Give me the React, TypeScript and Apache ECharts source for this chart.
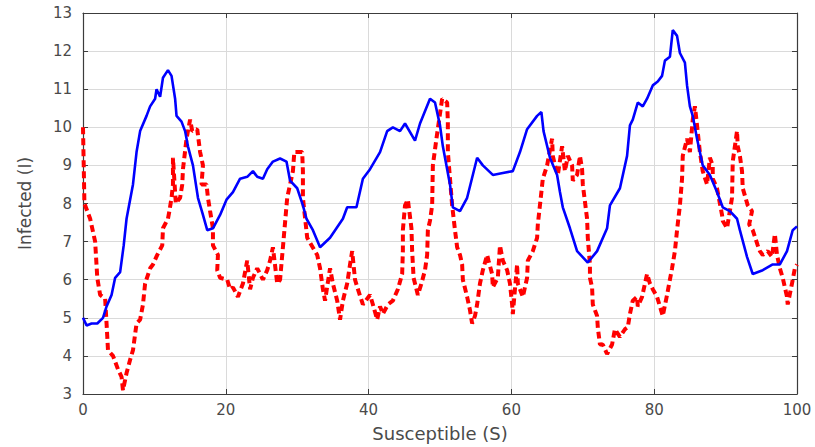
import React, { useEffect, useRef } from "react";
import * as echarts from "echarts";

const blueS = [0, 0.5, 1.2, 2.0, 2.8, 3.3, 4.0, 4.5, 5.2, 5.7, 6.1, 7.0, 7.5, 8.0, 8.9, 9.4, 10.1, 10.3, 10.8, 11.2, 11.9, 12.4, 12.9, 13.1, 13.8, 14.3, 14.7, 15.4, 16.1, 16.8, 17.4, 18.2, 19.2, 20.1, 21.0, 22.0, 23.0, 23.8, 24.4, 25.2, 25.8, 26.6, 27.6, 28.5, 29.0, 30.0, 30.8, 31.3, 32.2, 33.2, 34.6, 35.5, 36.4, 37.0, 38.3, 39.2, 40.2, 41.6, 42.6, 43.4, 44.4, 45.1, 46.5, 47.2, 48.6, 49.3, 50.0, 50.4, 51.4, 51.8, 52.8, 53.8, 55.2, 56.0, 57.4, 58.8, 60.2, 61.2, 62.2, 63.6, 64.2, 64.5, 65.4, 66.4, 66.8, 67.2, 68.2, 69.2, 70.7, 72.0, 73.4, 73.8, 75.2, 76.2, 76.6, 77.0, 77.7, 78.4, 79.0, 79.8, 80.5, 81.1, 81.5, 82.2, 82.6, 83.2, 83.6, 84.3, 84.6, 85.0, 85.4, 86.0, 86.8, 87.8, 88.8, 89.6, 90.6, 91.6, 92.0, 93.0, 93.8, 95.2, 96.6, 97.6, 98.6, 99.4, 100];
const blueI = [5.0, 4.8, 4.85, 4.85, 5.0, 5.3, 5.6, 6.05, 6.2, 6.9, 7.6, 8.5, 9.35, 9.9, 10.3, 10.55, 10.75, 11.0, 10.8, 11.3, 11.5, 11.35, 10.75, 10.3, 10.15, 9.9, 9.5, 9.0, 8.15, 7.7, 7.3, 7.35, 7.7, 8.1, 8.3, 8.65, 8.7, 8.85, 8.7, 8.65, 8.9, 9.1, 9.18, 9.1, 8.6, 8.4, 7.95, 7.6, 7.3, 6.85, 7.1, 7.35, 7.6, 7.9, 7.9, 8.65, 8.9, 9.35, 9.9, 10.0, 9.9, 10.1, 9.65, 10.1, 10.75, 10.65, 10.05, 9.5, 8.5, 7.9, 7.8, 8.15, 9.2, 9.0, 8.75, 8.8, 8.85, 9.35, 9.95, 10.3, 10.4, 9.9, 9.2, 8.75, 8.3, 7.9, 7.35, 6.75, 6.45, 6.75, 7.35, 7.95, 8.4, 9.25, 10.05, 10.2, 10.65, 10.55, 10.75, 11.1, 11.2, 11.35, 11.75, 11.85, 12.55, 12.4, 11.95, 11.7, 11.1, 10.55, 10.3, 9.7, 9.0, 8.75, 8.3, 7.9, 7.8, 7.6, 7.3, 6.6, 6.15, 6.25, 6.4, 6.4, 6.75, 7.3, 7.4];

const redS = [0, 0.1, 0.2, 1.0, 1.7, 2.0, 2.4, 3.1, 3.3, 3.5, 4.2, 4.9, 5.4, 5.6, 6.1, 6.6, 7.0, 7.5, 8.0, 8.4, 8.7, 9.4, 9.8, 10.4, 11.1, 11.2, 11.9, 12.1, 12.4, 12.6, 12.6, 13.0, 13.6, 13.9, 14.0, 14.5, 15.0, 15.3, 16.0, 16.4, 16.8, 16.6, 17.3, 17.5, 17.8, 18.2, 18.2, 18.9, 18.8, 19.2, 20.2, 20.6, 21.0, 21.7, 22.4, 23.0, 23.4, 23.8, 24.4, 25.2, 25.8, 26.2, 26.6, 27.2, 27.6, 28.0, 28.6, 29.4, 29.6, 30.7, 30.8, 30.8, 31.4, 32.8, 33.2, 33.6, 33.9, 34.6, 35.0, 35.6, 36.0, 36.4, 37.0, 37.4, 37.7, 38.1, 38.5, 39.2, 40.2, 40.6, 41.2, 41.6, 42.0, 42.7, 43.4, 44.1, 44.7, 44.8, 44.8, 45.1, 45.5, 46.0, 46.1, 46.3, 46.9, 47.4, 47.9, 48.2, 48.3, 48.6, 48.9, 49.0, 49.5, 50.3, 51.0, 51.1, 51.1, 51.4, 51.7, 52.1, 52.4, 52.8, 53.1, 53.2, 53.8, 54.2, 54.5, 54.9, 55.2, 55.6, 56.0, 56.6, 56.8, 57.3, 57.4, 58.1, 58.4, 58.8, 59.4, 59.8, 60.1, 60.2, 60.8, 60.9, 61.6, 62.2, 62.3, 63.0, 63.6, 63.7, 64.2, 64.4, 65.0, 65.7, 65.8, 66.1, 66.5, 67.1, 67.5, 67.9, 68.5, 68.6, 69.2, 69.6, 69.9, 70.0, 70.3, 70.6, 70.7, 71.0, 71.0, 71.3, 71.4, 72.0, 72.1, 72.4, 72.8, 73.4, 74.1, 74.5, 75.2, 75.9, 76.3, 76.6, 77.0, 77.6, 77.7, 78.3, 79.0, 79.4, 79.8, 80.4, 80.8, 81.2, 81.8, 82.2, 82.5, 82.9, 83.2, 83.6, 83.9, 84.0, 84.6, 85.0, 85.4, 85.7, 86.0, 86.4, 86.8, 87.4, 87.8, 88.2, 88.2, 88.8, 89.5, 89.6, 90.2, 90.9, 91.0, 91.6, 91.7, 92.0, 92.3, 92.4, 93.1, 93.7, 93.3, 93.8, 94.5, 94.8, 95.2, 95.9, 96.5, 96.9, 97.2, 97.6, 98.0, 98.6, 98.7, 99.3, 99.7, 100];
const redI = [10.0, 9.0, 8.0, 7.6, 7.0, 6.05, 5.6, 5.5, 4.85, 4.15, 4.0, 3.65, 3.45, 3.1, 3.55, 3.9, 4.15, 4.85, 4.95, 5.35, 5.9, 6.3, 6.4, 6.65, 6.9, 7.35, 7.6, 7.8, 8.15, 8.5, 9.2, 8.0, 8.15, 8.5, 8.9, 9.7, 10.2, 9.9, 9.95, 9.35, 9.0, 8.5, 8.5, 8.15, 7.8, 7.35, 6.9, 6.65, 6.25, 6.05, 6.0, 5.75, 5.8, 5.55, 5.9, 6.5, 5.75, 6.05, 6.3, 6.0, 6.25, 6.5, 6.85, 5.9, 6.0, 6.85, 8.15, 8.85, 9.35, 9.35, 8.85, 8.15, 7.1, 6.65, 6.3, 5.75, 5.45, 6.3, 5.9, 5.45, 4.95, 5.45, 5.9, 6.4, 6.75, 6.0, 5.75, 5.35, 5.6, 5.35, 4.95, 5.3, 5.1, 5.35, 5.45, 5.75, 6.15, 6.75, 7.3, 7.95, 8.1, 7.35, 6.75, 6.05, 5.6, 5.9, 6.25, 6.65, 7.3, 7.55, 7.95, 9.0, 9.7, 10.75, 10.65, 10.15, 9.35, 8.65, 7.95, 7.3, 6.85, 6.65, 6.4, 6.0, 5.55, 5.2, 4.85, 5.05, 5.35, 5.9, 6.25, 6.65, 6.5, 6.15, 5.8, 6.05, 6.9, 6.5, 6.25, 5.9, 5.35, 5.1, 6.4, 5.9, 5.55, 6.05, 6.5, 6.75, 7.1, 7.45, 8.3, 8.65, 9.0, 9.7, 9.25, 9.0, 8.75, 9.5, 8.85, 9.25, 9.0, 8.6, 8.75, 9.25, 8.9, 8.5, 8.05, 7.6, 7.1, 6.4, 6.05, 5.8, 5.35, 5.05, 4.75, 4.3, 4.3, 4.05, 4.3, 4.7, 4.5, 4.7, 4.75, 5.1, 5.45, 5.55, 5.3, 5.55, 6.15, 5.9, 5.75, 5.55, 5.3, 5.05, 5.6, 6.0, 6.3, 6.75, 7.3, 7.95, 8.65, 9.25, 9.7, 9.35, 10.2, 10.55, 10.05, 9.35, 8.85, 8.5, 9.2, 9.0, 8.65, 8.4, 7.7, 7.55, 7.35, 8.15, 9.1, 9.9, 9.5, 9.25, 8.85, 8.4, 7.95, 7.8, 7.45, 7.3, 6.9, 6.75, 6.65, 6.75, 6.6, 7.2, 6.65, 6.3, 6.05, 5.55, 5.35, 5.9, 6.3, 6.4];

const xTicks = { min: 0, max: 100, interval: 20 };
const yTicks = { min: 3, max: 13, interval: 1 };

const FONT = "DejaVu Sans";
const AXIS_COLOR = "#3c3c3c";
const LABEL_COLOR = "#4a4a4a";

export default function App() {
  const ref = useRef<HTMLDivElement>(null);
  useEffect(() => {
    if (!ref.current) return;
    const chart = echarts.init(ref.current, null, { renderer: "svg" });
    const blueData = blueS.map((s, i) => [s, blueI[i]]);
    const redData = redS.map((s, i) => [s, redI[i]]);
    const tickStyle = { show: true, inside: true, length: 5, lineStyle: { color: AXIS_COLOR, width: 1 } };
    const lineAxis = { show: true, onZero: false, lineStyle: { color: AXIS_COLOR, width: 1.2 } };
    chart.setOption({
      animation: false,
      backgroundColor: "#ffffff",
      grid: { left: 83, right: 18, top: 13, bottom: 49, containLabel: false },
      xAxis: [
        {
          type: "value",
          ...xTicks,
          position: "bottom",
          name: "Susceptible (S)",
          nameLocation: "middle",
          nameGap: 30,
          nameTextStyle: { fontFamily: FONT, fontSize: 18, color: LABEL_COLOR },
          axisLine: lineAxis,
          axisTick: tickStyle,
          axisLabel: { fontFamily: FONT, fontSize: 15, color: LABEL_COLOR, margin: 8 },
          splitLine: { show: true, lineStyle: { color: "#dadada", width: 1 } },
        },
        {
          type: "value",
          ...xTicks,
          position: "top",
          axisLine: lineAxis,
          axisTick: tickStyle,
          axisLabel: { show: false },
          splitLine: { show: false },
        },
      ],
      yAxis: [
        {
          type: "value",
          ...yTicks,
          position: "left",
          name: "Infected (I)",
          nameLocation: "middle",
          nameGap: 50,
          nameTextStyle: { fontFamily: FONT, fontSize: 17, color: LABEL_COLOR },
          axisLine: lineAxis,
          axisTick: tickStyle,
          axisLabel: { fontFamily: FONT, fontSize: 15, color: LABEL_COLOR, margin: 11 },
          splitLine: { show: true, lineStyle: { color: "#dadada", width: 1 } },
        },
        {
          type: "value",
          ...yTicks,
          position: "right",
          axisLine: lineAxis,
          axisTick: tickStyle,
          axisLabel: { show: false },
          splitLine: { show: false },
        },
      ],
      series: [
        {
          name: "blue",
          type: "line",
          data: blueData,
          showSymbol: false,
          symbol: "none",
          lineStyle: { color: "#0000ff", width: 2.6 },
          z: 3,
        },
        {
          name: "red",
          type: "line",
          data: redData,
          showSymbol: false,
          symbol: "none",
          lineStyle: { color: "#ff0000", width: 4, type: [7, 4] },
          z: 2,
        },
      ],
    });
    return () => chart.dispose();
  }, []);
  return <div ref={ref} style={{ width: 815, height: 447, position: "absolute", left: 0, top: 0 }} />;
}
